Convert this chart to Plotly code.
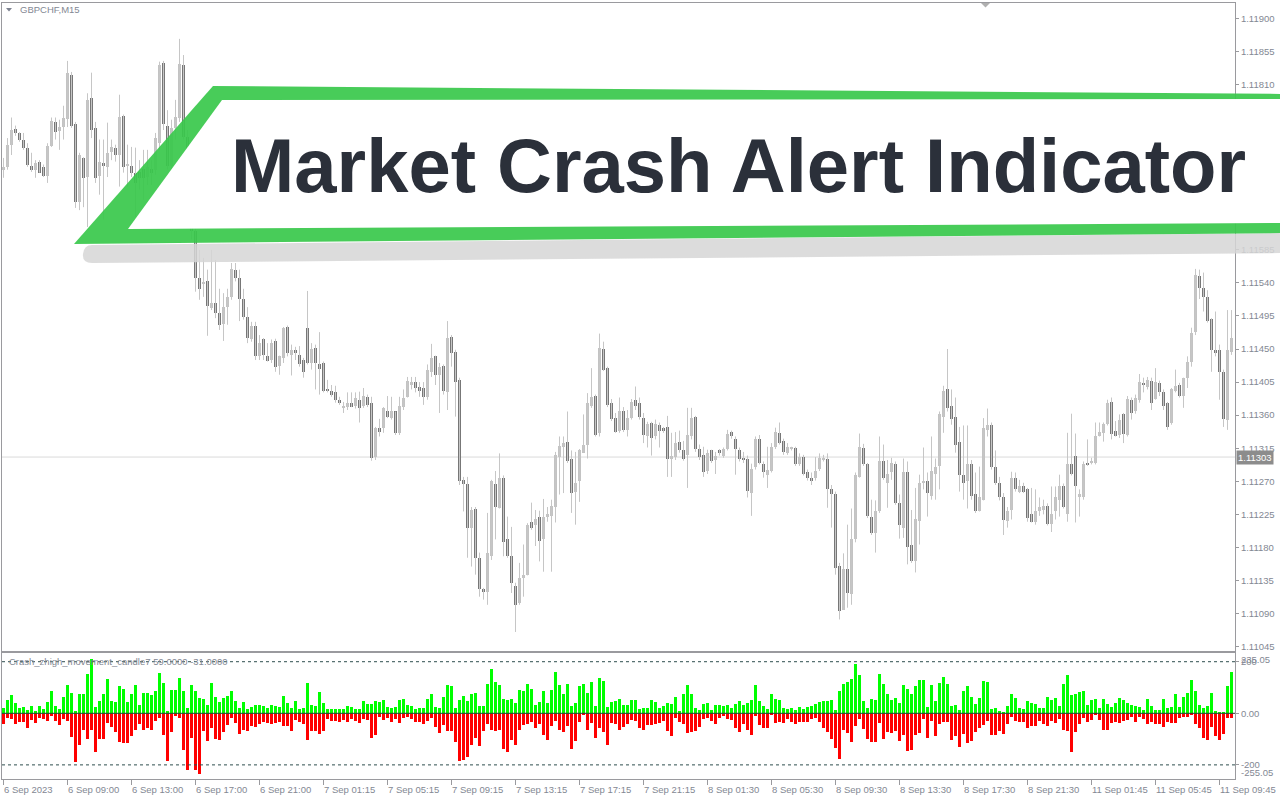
import plotly.graph_objects as go

# ---------------- data ----------------
time_labels = ["6 Sep 2023", "6 Sep 09:00", "6 Sep 13:00", "6 Sep 17:00", "6 Sep 21:00",
               "7 Sep 01:15", "7 Sep 05:15", "7 Sep 09:15", "7 Sep 13:15", "7 Sep 17:15",
               "7 Sep 21:15", "8 Sep 01:30", "8 Sep 05:30", "8 Sep 09:30", "8 Sep 13:30",
               "8 Sep 17:30", "8 Sep 21:30", "11 Sep 01:45", "11 Sep 05:45", "11 Sep 09:45"]
label_bars = [0, 16, 32, 48, 64, 80, 96, 112, 128, 144, 160, 176, 192, 208, 224, 240, 256, 272, 288, 304]

price_ticks = [1.11045, 1.11090, 1.11135, 1.11180, 1.11225, 1.11270, 1.11315, 1.11360, 1.11405,
               1.11450, 1.11495, 1.11540, 1.11585, 1.11630, 1.11675, 1.11720, 1.11765, 1.11810,
               1.11855, 1.11900]
bid_price = 1.11303

open_ = [
1.11694,1.11697,1.11728,1.11750,1.11744,1.11735,1.11724,1.11699,1.11694,1.11705,1.11697,1.11686,1.11726,1.11759,1.11747,1.11752,
1.11763,1.11823,1.11756,1.11650,1.11710,1.11684,1.11792,1.11751,1.11686,1.11703,1.11698,1.11718,1.11724,1.11714,1.11767,1.11700,
1.11699,1.11690,1.11691,1.11695,1.11684,1.11695,1.11694,1.11730,1.11839,1.11754,1.11699,1.11751,1.11765,1.11837,1.11739,1.11694,
1.11610,1.11546,1.11539,1.11542,1.11506,1.11512,1.11499,1.11484,1.11507,1.11521,1.11558,1.11547,1.11518,1.11494,1.11464,1.11482,
1.11440,1.11463,1.11441,1.11435,1.11461,1.11427,1.11438,1.11480,1.11442,1.11448,1.11442,1.11435,1.11478,1.11431,1.11452,1.11430,
1.11431,1.11396,1.11393,1.11391,1.11380,1.11371,1.11371,1.11376,1.11373,1.11380,1.11373,1.11385,1.11377,1.11303,1.11342,1.11342,
1.11365,1.11356,1.11365,1.11336,1.11371,1.11385,1.11401,1.11405,1.11399,1.11397,1.11385,1.11419,1.11440,1.11414,1.11427,1.11391,
1.11467,1.11446,1.11408,1.11272,1.11267,1.11207,1.11233,1.11166,1.11123,1.11120,1.11169,1.11267,1.11234,1.11274,1.11191,1.11169,
1.11128,1.11104,1.11138,1.11143,1.11214,1.11210,1.11222,1.11191,1.11222,1.11223,1.11235,1.11303,1.11317,1.11324,1.11301,1.11256,
1.11270,1.11309,1.11320,1.11373,1.11386,1.11336,1.11450,1.11424,1.11377,1.11356,1.11339,1.11365,1.11340,1.11356,1.11380,1.11376,
1.11356,1.11331,1.11350,1.11332,1.11347,1.11342,1.11344,1.11301,1.11303,1.11324,1.11312,1.11306,1.11331,1.11358,1.11314,1.11306,
1.11284,1.11312,1.11299,1.11312,1.11305,1.11314,1.11337,1.11327,1.11313,1.11301,1.11301,1.11254,1.11289,1.11327,1.11294,1.11279,
1.11284,1.11317,1.11336,1.11325,1.11309,1.11314,1.11316,1.11294,1.11303,1.11283,1.11274,1.11274,1.11287,1.11299,1.11301,1.11260,
1.11253,1.11155,1.11095,1.11151,1.11117,1.11191,1.11276,1.11316,1.11293,1.11222,1.11200,1.11229,1.11297,1.11268,1.11282,1.11294,
1.11240,1.11207,1.11282,1.11184,1.11162,1.11216,1.11268,1.11270,1.11250,1.11280,1.11291,1.11358,1.11395,1.11373,1.11358,1.11324,
1.11278,1.11270,1.11293,1.11253,1.11230,1.11245,1.11340,1.11346,1.11290,1.11268,1.11248,1.11216,1.11231,1.11274,1.11256,1.11263,
1.11260,1.11226,1.11215,1.11229,1.11231,1.11237,1.11212,1.11229,1.11244,1.11263,1.11225,1.11294,1.11305,1.11249,1.11249,1.11295,
1.11295,1.11295,1.11332,1.11336,1.11348,1.11378,1.11339,1.11333,1.11362,1.11333,1.11380,1.11365,1.11381,1.11404,1.11399,1.11407,
1.11382,1.11404,1.11391,1.11376,1.11350,1.11393,1.11401,1.11386,1.11411,1.11433,1.11473,1.11550,1.11533,1.11521,1.11491,1.11449,
1.11448,1.11419,1.11354,1.11446]

high = [
1.11710,1.11737,1.11765,1.11754,1.11745,1.11744,1.11730,1.11717,1.11707,1.11707,1.11701,1.11730,1.11765,1.11765,1.11762,1.11781,
1.11842,1.11827,1.11759,1.11717,1.11711,1.11798,1.11826,1.11759,1.11735,1.11735,1.11758,1.11735,1.11728,1.11796,1.11769,1.11728,
1.11725,1.11724,1.11707,1.11721,1.11721,1.11707,1.11744,1.11841,1.11842,1.11775,1.11762,1.11789,1.11872,1.11850,1.11748,1.11701,
1.11619,1.11585,1.11574,1.11558,1.11585,1.11571,1.11532,1.11526,1.11532,1.11567,1.11567,1.11558,1.11532,1.11507,1.11487,1.11487,
1.11469,1.11465,1.11458,1.11463,1.11464,1.11441,1.11480,1.11482,1.11456,1.11453,1.11454,1.11438,1.11529,1.11458,1.11456,1.11473,
1.11433,1.11408,1.11401,1.11400,1.11385,1.11378,1.11391,1.11391,1.11391,1.11392,1.11397,1.11388,1.11385,1.11344,1.11355,1.11371,
1.11386,1.11385,1.11365,1.11385,1.11395,1.11412,1.11412,1.11412,1.11405,1.11405,1.11429,1.11457,1.11441,1.11431,1.11429,1.11488,
1.11469,1.11449,1.11411,1.11276,1.11276,1.11235,1.11235,1.11173,1.11125,1.11227,1.11272,1.11284,1.11308,1.11278,1.11222,1.11208,
1.11132,1.11159,1.11184,1.11213,1.11241,1.11231,1.11230,1.11246,1.11235,1.11245,1.11310,1.11331,1.11331,1.11365,1.11312,1.11310,
1.11314,1.11361,1.11390,1.11424,1.11388,1.11471,1.11460,1.11426,1.11382,1.11363,1.11384,1.11371,1.11367,1.11382,1.11399,1.11384,
1.11363,1.11351,1.11351,1.11354,1.11350,1.11344,1.11359,1.11336,1.11337,1.11339,1.11325,1.11370,1.11370,1.11359,1.11320,1.11317,
1.11313,1.11313,1.11310,1.11314,1.11316,1.11340,1.11339,1.11331,1.11316,1.11310,1.11305,1.11294,1.11331,1.11333,1.11297,1.11317,
1.11322,1.11343,1.11350,1.11328,1.11322,1.11317,1.11317,1.11308,1.11306,1.11286,1.11282,1.11303,1.11308,1.11306,1.11308,1.11265,
1.11256,1.11159,1.11172,1.11211,1.11233,1.11282,1.11335,1.11321,1.11295,1.11245,1.11244,1.11331,1.11320,1.11299,1.11302,1.11297,
1.11252,1.11301,1.11297,1.11231,1.11261,1.11279,1.11316,1.11282,1.11331,1.11301,1.11365,1.11400,1.11450,1.11395,1.11384,1.11344,
1.11346,1.11346,1.11299,1.11282,1.11290,1.11356,1.11369,1.11350,1.11312,1.11276,1.11254,1.11235,1.11283,1.11282,1.11272,1.11268,
1.11261,1.11261,1.11259,1.11248,1.11245,1.11240,1.11263,1.11263,1.11279,1.11267,1.11336,1.11362,1.11335,1.11259,1.11297,1.11327,
1.11302,1.11350,1.11350,1.11350,1.11381,1.11384,1.11352,1.11361,1.11363,1.11386,1.11384,1.11388,1.11416,1.11411,1.11412,1.11411,
1.11424,1.11407,1.11395,1.11378,1.11397,1.11422,1.11404,1.11411,1.11440,1.11479,1.11559,1.11558,1.11554,1.11530,1.11492,1.11501,
1.11456,1.11422,1.11503,1.11503]

low = [
1.11683,1.11694,1.11714,1.11740,1.11732,1.11721,1.11698,1.11691,1.11683,1.11690,1.11684,1.11676,1.11725,1.11735,1.11721,1.11735,
1.11752,1.11751,1.11642,1.11639,1.11643,1.11616,1.11737,1.11676,1.11660,1.11626,1.11684,1.11707,1.11705,1.11671,1.11690,1.11671,
1.11684,1.11630,1.11667,1.11653,1.11673,1.11673,1.11687,1.11721,1.11748,1.11694,1.11687,1.11735,1.11759,1.11735,1.11680,1.11599,
1.11528,1.11517,1.11521,1.11468,1.11503,1.11492,1.11476,1.11461,1.11483,1.11517,1.11542,1.11488,1.11490,1.11458,1.11460,1.11435,
1.11435,1.11435,1.11433,1.11431,1.11419,1.11415,1.11431,1.11440,1.11414,1.11435,1.11426,1.11411,1.11429,1.11422,1.11395,1.11388,
1.11391,1.11391,1.11385,1.11377,1.11374,1.11363,1.11367,1.11371,1.11369,1.11350,1.11370,1.11371,1.11298,1.11299,1.11331,1.11336,
1.11356,1.11354,1.11333,1.11333,1.11367,1.11384,1.11395,1.11391,1.11385,1.11374,1.11381,1.11412,1.11401,1.11363,1.11388,1.11367,
1.11426,1.11358,1.11265,1.11229,1.11166,1.11154,1.11143,1.11113,1.11109,1.11102,1.11163,1.11191,1.11233,1.11168,1.11166,1.11118,
1.11065,1.11102,1.11113,1.11142,1.11204,1.11182,1.11161,1.11147,1.11215,1.11147,1.11214,1.11252,1.11254,1.11295,1.11227,1.11211,
1.11242,1.11309,1.11301,1.11370,1.11331,1.11331,1.11420,1.11371,1.11352,1.11336,1.11336,1.11337,1.11331,1.11354,1.11367,1.11354,
1.11322,1.11316,1.11305,1.11327,1.11316,1.11336,1.11276,1.11276,1.11299,1.11309,1.11298,1.11261,1.11327,1.11310,1.11299,1.11276,
1.11280,1.11295,1.11280,1.11305,1.11302,1.11312,1.11328,1.11279,1.11297,1.11295,1.11248,1.11223,1.11286,1.11293,1.11275,1.11261,
1.11282,1.11314,1.11320,1.11306,1.11306,1.11312,1.11291,1.11291,1.11278,1.11271,1.11265,1.11271,1.11284,1.11297,1.11234,1.11207,
1.11143,1.11082,1.11095,1.11098,1.11102,1.11187,1.11275,1.11291,1.11220,1.11197,1.11173,1.11227,1.11272,1.11234,1.11272,1.11238,
1.11192,1.11193,1.11157,1.11159,1.11146,1.11184,1.11259,1.11222,1.11245,1.11245,1.11259,1.11336,1.11365,1.11347,1.11309,1.11256,
1.11245,1.11233,1.11245,1.11227,1.11229,1.11244,1.11331,1.11286,1.11265,1.11244,1.11197,1.11207,1.11218,1.11256,1.11254,1.11254,
1.11215,1.11214,1.11211,1.11223,1.11225,1.11210,1.11201,1.11218,1.11222,1.11233,1.11215,1.11278,1.11214,1.11222,1.11245,1.11291,
1.11293,1.11293,1.11331,1.11324,1.11346,1.11327,1.11331,1.11329,1.11322,1.11331,1.11354,1.11362,1.11377,1.11391,1.11395,1.11367,
1.11381,1.11386,1.11367,1.11340,1.11347,1.11391,1.11384,1.11370,1.11397,1.11426,1.11469,1.11518,1.11501,1.11486,1.11419,1.11440,
1.11381,1.11344,1.11340,1.11442]

close = [
1.11698,1.11728,1.11748,1.11744,1.11735,1.11724,1.11701,1.11694,1.11703,1.11690,1.11686,1.11726,1.11760,1.11745,1.11752,1.11765,
1.11826,1.11754,1.11650,1.11714,1.11683,1.11789,1.11748,1.11683,1.11705,1.11699,1.11717,1.11725,1.11714,1.11766,1.11698,1.11701,
1.11690,1.11676,1.11683,1.11683,1.11698,1.11690,1.11737,1.11837,1.11756,1.11699,1.11751,1.11766,1.11838,1.11739,1.11694,1.11610,
1.11546,1.11532,1.11540,1.11509,1.11513,1.11499,1.11483,1.11507,1.11521,1.11559,1.11547,1.11518,1.11494,1.11465,1.11482,1.11441,
1.11458,1.11442,1.11434,1.11458,1.11426,1.11440,1.11478,1.11444,1.11448,1.11444,1.11429,1.11419,1.11431,1.11450,1.11431,1.11423,
1.11393,1.11393,1.11388,1.11380,1.11377,1.11373,1.11377,1.11371,1.11384,1.11370,1.11386,1.11374,1.11302,1.11343,1.11337,1.11370,
1.11358,1.11365,1.11336,1.11373,1.11384,1.11407,1.11405,1.11397,1.11393,1.11385,1.11422,1.11438,1.11415,1.11426,1.11393,1.11465,
1.11445,1.11405,1.11270,1.11267,1.11206,1.11231,1.11166,1.11124,1.11120,1.11172,1.11270,1.11235,1.11275,1.11188,1.11168,1.11131,
1.11102,1.11139,1.11143,1.11211,1.11207,1.11219,1.11189,1.11222,1.11226,1.11237,1.11306,1.11318,1.11322,1.11298,1.11254,1.11268,
1.11312,1.11320,1.11376,1.11385,1.11333,1.11452,1.11422,1.11374,1.11355,1.11337,1.11365,1.11340,1.11356,1.11378,1.11373,1.11358,
1.11333,1.11348,1.11329,1.11348,1.11339,1.11339,1.11301,1.11305,1.11322,1.11312,1.11301,1.11333,1.11356,1.11314,1.11303,1.11282,
1.11308,1.11298,1.11305,1.11308,1.11314,1.11335,1.11331,1.11314,1.11301,1.11299,1.11257,1.11287,1.11327,1.11295,1.11282,1.11286,
1.11317,1.11337,1.11322,1.11310,1.11317,1.11316,1.11294,1.11303,1.11280,1.11274,1.11271,1.11284,1.11302,1.11301,1.11259,1.11253,
1.11152,1.11094,1.11151,1.11118,1.11192,1.11278,1.11317,1.11294,1.11223,1.11199,1.11230,1.11298,1.11275,1.11280,1.11295,1.11241,
1.11210,1.11282,1.11181,1.11161,1.11219,1.11268,1.11271,1.11254,1.11284,1.11290,1.11362,1.11393,1.11370,1.11355,1.11320,1.11279,
1.11268,1.11294,1.11250,1.11229,1.11249,1.11343,1.11347,1.11289,1.11268,1.11248,1.11218,1.11229,1.11275,1.11259,1.11263,1.11256,
1.11220,1.11214,1.11230,1.11235,1.11237,1.11212,1.11226,1.11248,1.11263,1.11235,1.11293,1.11280,1.11263,1.11253,1.11294,1.11293,
1.11297,1.11332,1.11337,1.11348,1.11376,1.11335,1.11331,1.11354,1.11335,1.11382,1.11363,1.11384,1.11405,1.11401,1.11408,1.11377,
1.11405,1.11391,1.11373,1.11344,1.11395,1.11400,1.11386,1.11411,1.11433,1.11472,1.11551,1.11533,1.11521,1.11488,1.11449,1.11444,
1.11419,1.11355,1.11449,1.11465]

hist_up = [
22,54,71,41,21,26,13,30,10,30,17,45,87,32,17,65,111,79,9,76,76,156,211,26,49,76,133,50,45,107,97,45,
76,111,36,79,79,71,87,160,118,9,94,94,137,90,21,111,90,62,58,36,121,67,45,62,70,87,48,22,45,18,26,35,
36,32,23,35,32,26,68,41,22,49,19,22,119,34,32,83,43,17,17,17,19,17,32,28,19,17,48,39,39,49,45,53,
28,23,26,52,59,35,32,17,21,23,56,76,28,22,67,110,107,23,52,68,48,76,81,32,32,116,172,125,110,56,52,56,
43,94,87,114,97,36,45,87,43,93,163,111,78,114,32,43,106,116,81,125,32,140,129,28,45,48,56,36,36,54,52,19,
22,23,52,45,23,30,41,39,67,10,78,110,75,23,13,39,41,13,35,35,32,36,23,39,48,36,41,52,110,48,32,17,
78,58,52,22,19,23,13,26,17,28,32,39,45,48,49,52,13,90,116,123,136,194,152,48,22,58,54,155,116,75,54,62,
43,110,97,75,106,132,132,26,112,48,120,143,115,32,36,16,90,106,67,39,62,129,125,19,23,12,4,32,78,61,23,17,
48,43,39,22,21,67,52,62,32,116,149,71,78,84,87,36,52,58,22,58,39,28,43,62,52,43,35,32,26,13,58,30,
13,16,56,23,26,75,28,65,81,132,87,36,22,32,81,10,6,4,106,164]

hist_dn = [
-39,-17,-22,-39,-32,-32,-56,-23,-35,-17,-22,-26,-10,-26,-44,-22,-28,-90,-187,-119,-61,-99,-61,-149,-99,-99,-36,-50,-71,-110,-112,-112,
-87,-61,-39,-61,-56,-61,-28,-17,-84,-183,-71,-10,-17,-140,-217,-93,-216,-233,-65,-106,-54,-99,-101,-70,-43,-16,-36,-78,-62,-65,-49,-52,
-41,-32,-34,-41,-36,-32,-49,-47,-65,-23,-32,-41,-101,-65,-65,-78,-65,-22,-26,-26,-30,-23,-30,-19,-26,-36,-19,-23,-93,-84,-13,-23,
-17,-30,-19,-36,-17,-13,-19,-30,-32,-39,-26,-17,-52,-74,-45,-65,-65,-110,-183,-178,-168,-119,-94,-123,-65,-39,-61,-67,-61,-138,-149,-103,
-119,-61,-45,-41,-30,-54,-41,-81,-101,-49,-26,-61,-71,-49,-138,-106,-30,-4,-61,-36,-93,-54,-71,-119,-36,-41,-61,-52,-41,-23,-26,-56,
-61,-45,-45,-41,-36,-26,-68,-87,-17,-32,-41,-75,-71,-65,-52,-22,-17,-28,-39,-17,-9,-19,-23,-56,-71,-41,-61,-84,-9,-45,-56,-56,
-4,-35,-30,-36,-22,-30,-39,-30,-32,-32,-19,-16,-32,-56,-71,-97,-133,-174,-61,-75,-110,-49,-22,-58,-99,-110,-110,-36,-99,-71,-75,-65,
-106,-84,-145,-140,-84,-75,-22,-94,-28,-87,-41,-30,-32,-103,-87,-129,-80,-114,-106,-71,-56,-45,-26,-84,-84,-68,-78,-39,-13,-26,-30,-30,
-54,-49,-48,-28,-39,-48,-28,-36,-22,-61,-68,-149,-71,-41,-17,-32,-23,-4,-23,-61,-61,-35,-32,-35,-26,-23,-13,-30,-13,-19,-41,-30,
-41,-39,-52,-30,-35,-35,-16,-13,-13,-4,-39,-56,-94,-101,-52,-87,-101,-78,-16,-16]

indicator_label = "Crash_zhigh_movement_candle7 59.0000 -31.0000"
symbol_label = "GBPCHF,M15"
title_text = "Market Crash Alert Indicator"

# ---------------- layout geometry ----------------
W, H = 1280, 800
ML, MR, MT, MB = 2, 45, 3, 21
PW, PH = W - ML - MR, H - MT - MB


def pxx(x):
    return (x - ML) / PW


def pxy(y):
    return (H - MB - y) / PH


n = len(open_)
idx = list(range(n))
x0 = -1.5 / 4
x1 = x0 + PW / 4.0

# wicks
wx, wy = [], []
for i in idx:
    wx += [i, i, None]
    wy += [high[i], low[i], None]

body_base = [min(o, c) for o, c in zip(open_, close)]
body_h = [max(abs(c - o), 1.4e-5) for o, c in zip(open_, close)]
body_col = ["#c3c3c3" if c >= o else "#777777" for o, c in zip(open_, close)]

fig = go.Figure()
fig.add_trace(go.Scatter(x=wx, y=wy, mode="lines", line=dict(color="#c6c6c6", width=1),
                         hoverinfo="skip", xaxis="x", yaxis="y"))
fig.add_trace(go.Bar(x=idx, y=body_h, base=body_base, width=0.75, marker=dict(color=body_col, line=dict(width=0)),
                     xaxis="x", yaxis="y"))
fig.add_trace(go.Bar(x=idx, y=hist_up, width=0.75, marker=dict(color="#00ff00", line=dict(width=0)),
                     xaxis="x2", yaxis="y2"))
fig.add_trace(go.Bar(x=idx, y=hist_dn, width=0.75, marker=dict(color="#ff0000", line=dict(width=0)),
                     xaxis="x2", yaxis="y2"))

axis_line = "#9a9a9e"
lab_font = dict(family="Liberation Sans, Arial, sans-serif", size=9.5, color="#838893")

main_dom = [pxy(650.5), 1.0]
sub_dom = [0.0, pxy(652.5)]

fig.update_layout(
    width=W, height=H,
    margin=dict(l=ML, r=MR, t=MT, b=MB, pad=0),
    paper_bgcolor="white", plot_bgcolor="white",
    showlegend=False, barmode="overlay", bargap=0,
    xaxis=dict(domain=[0, 1], range=[x0, x1], anchor="y", showticklabels=False, showgrid=False,
               zeroline=False, showline=True, mirror=True, linecolor=axis_line, linewidth=1, ticks=""),
    yaxis=dict(domain=main_dom, range=[1.110398, 1.119208], side="right", anchor="x",
               tickmode="array", tickvals=price_ticks, ticktext=["%.5f" % v for v in price_ticks],
               ticks="outside", ticklen=3, tickcolor=axis_line, tickfont=lab_font, automargin=False,
               showgrid=False, zeroline=False, showline=True, mirror=True, linecolor=axis_line, linewidth=1),
    xaxis2=dict(domain=[0, 1], range=[x0, x1], anchor="y2", tickmode="array", tickvals=label_bars,
                showticklabels=False, ticks="outside", ticklen=5, tickcolor=axis_line, automargin=False,
                showgrid=False, zeroline=False, showline=True, mirror=True, linecolor=axis_line, linewidth=1),
    yaxis2=dict(domain=sub_dom, range=[-254.7, 235.7], side="right", anchor="x2",
                tickmode="array", tickvals=[-200, 0, 200], ticktext=["-200", "0.00", "200"],
                ticks="outside", ticklen=3, tickcolor=axis_line, tickfont=lab_font, automargin=False,
                showgrid=False, zeroline=False, showline=True, mirror=True, linecolor=axis_line, linewidth=1),
)

shapes = []
# bid line
shapes.append(dict(type="line", xref="x", yref="y", x0=x0, x1=x1, y0=bid_price, y1=bid_price,
                   line=dict(color="#dadada", width=1), layer="below"))
# indicator levels
for lv in (200, -200):
    shapes.append(dict(type="line", xref="x2", yref="y2", x0=x0, x1=x1, y0=lv, y1=lv,
                       line=dict(color="#2f4f4f", width=1, dash="3px,3px"), layer="above"))
shapes.append(dict(type="line", xref="x2", yref="y2", x0=x0, x1=x1, y0=0, y1=0,
                   line=dict(color="#303030", width=1), layer="above"))


def poly(pts):
    s = "M %.5f,%.5f " % (pxx(pts[0][0]), pxy(pts[0][1]))
    for p in pts[1:]:
        s += "L %.5f,%.5f " % (pxx(p[0]), pxy(p[1]))
    return s + "Z"


# shadow with rounded left end
shadow_path = ("M %.5f,%.5f L %.5f,%.5f L %.5f,%.5f L %.5f,%.5f Q %.5f,%.5f %.5f,%.5f Q %.5f,%.5f %.5f,%.5f Z" % (
    pxx(92), pxy(245), pxx(1290), pxy(233), pxx(1290), pxy(253), pxx(92), pxy(263),
    pxx(82), pxy(263), pxx(83), pxy(254), pxx(84), pxy(245), pxx(92), pxy(245)))
shapes.append(dict(type="path", xref="paper", yref="paper", path=shadow_path,
                   fillcolor="rgba(214,214,214,0.85)", line=dict(width=0), layer="above"))
# green frame
shapes.append(dict(type="path", xref="paper", yref="paper",
                   path=poly([(213, 86), (1290, 94), (1290, 233), (74, 244)]),
                   fillcolor="rgba(58,200,76,0.93)", line=dict(width=0), layer="above"))
shapes.append(dict(type="path", xref="paper", yref="paper",
                   path=poly([(222, 100), (1290, 99), (1290, 223), (128, 229)]),
                   fillcolor="white", line=dict(width=0), layer="above"))
# small markers
shapes.append(dict(type="path", xref="paper", yref="paper",
                   path=poly([(6, 8), (12, 8), (9, 11.5)]), fillcolor="#7d8290", line=dict(width=0), layer="above"))
shapes.append(dict(type="path", xref="paper", yref="paper",
                   path=poly([(981, 3), (990, 3), (985.5, 7.5)]), fillcolor="#b0b0b0", line=dict(width=0), layer="above"))

fig.update_layout(shapes=shapes)

ann = []
for b, t in zip(label_bars, time_labels):
    ann.append(dict(x=b, xref="x2", y=pxy(789), yref="paper", text=t, showarrow=False,
                    xanchor="left", yanchor="middle", xshift=-2, font=lab_font))
ann.append(dict(x=pxx(18), xref="paper", y=pxy(10), yref="paper", text=symbol_label, showarrow=False,
                xanchor="left", yanchor="middle", font=lab_font))
ann.append(dict(x=pxx(7), xref="paper", y=pxy(661), yref="paper", text=indicator_label, showarrow=False,
                xanchor="left", yanchor="middle", font=lab_font))
ann.append(dict(x=pxx(1239), xref="paper", y=pxy(659), yref="paper", text="235.05", showarrow=False,
                xanchor="left", yanchor="middle", font=lab_font))
ann.append(dict(x=pxx(1239), xref="paper", y=pxy(772), yref="paper", text="-255.05", showarrow=False,
                xanchor="left", yanchor="middle", font=lab_font))
ann.append(dict(x=pxx(1236), xref="paper", y=bid_price, yref="y", text=("%.5f" % bid_price), showarrow=False,
                xanchor="left", yanchor="middle", bgcolor="#8c8c8c", borderpad=1,
                font=dict(family="Liberation Sans, Arial, sans-serif", size=9.5, color="white")))
ann.append(dict(x=pxx(229), xref="paper", y=pxy(165.5), yref="paper", text="<b>" + title_text + "</b>",
                showarrow=False, xanchor="left", yanchor="middle",
                font=dict(family="Liberation Sans, Arial, sans-serif", size=76, color="#2b303a")))
fig.update_layout(annotations=ann)

fig.write_html("out.html", config={"displayModeBar": False},
               post_script="document.body.style.margin='0';document.body.style.overflow='hidden';")
